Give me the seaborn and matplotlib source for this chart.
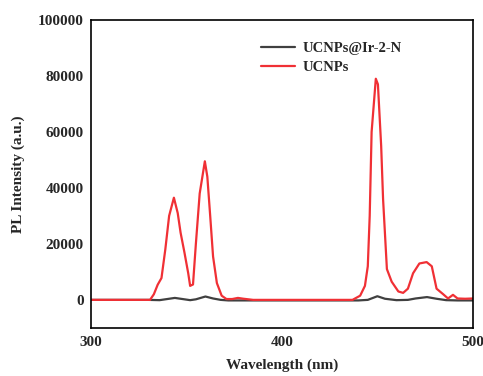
"""PL spectra of UCNPs and UCNPs@Ir-2-N."""
import matplotlib
matplotlib.use('Agg')
import matplotlib.pyplot as plt
import seaborn as sns

# red curve: bare UCNPs (wavelength in nm, intensity in a.u.)
ucnp_wl = [300, 320, 331, 333, 335, 337, 339, 341, 343.5, 345.5, 347, 349, 351, 352,
           353.5, 355, 357, 359.7, 361, 362.5, 364, 366, 368.5, 371, 374, 377, 380,
           385, 400, 420, 437, 441, 443.5, 445, 446, 447, 449.2, 450.3, 452, 453,
           455, 457.5, 461, 463.5, 466, 468.7, 472, 475.8, 478.5, 481, 484.5, 487,
           489.6, 492, 496, 500]
ucnp_int = [0, 0, 0, 2000, 5400, 7800, 18000, 30000, 36500, 31000, 24000, 17000, 9500,
            5000, 5500, 20000, 38000, 49500, 44000, 30000, 15500, 6000, 1500, 300, 300,
            700, 400, 0, 0, 0, 0, 1500, 5000, 12000, 30000, 60000, 79000, 77000, 55000,
            36000, 11000, 6500, 3000, 2500, 4000, 9500, 13000, 13500, 12000, 4000, 2000,
            500, 1800, 500, 400, 500]

# dark curve: UCNPs@Ir-2-N
coated_wl = [300, 330, 336, 340, 344, 348, 352, 355, 360, 364, 368, 372, 380, 400,
             420, 440, 445, 450, 454, 460, 466, 470, 476, 481, 486, 492, 500]
coated_int = [0, 0, -100, 300, 700, 300, -100, 200, 1200, 500, 0, -200, -200, -200,
              -200, -200, 0, 1300, 400, -100, 0, 500, 1000, 400, -100, -200, -200]

sns.set_style('white')
plt.rcParams['font.family'] = ['Liberation Serif', 'DejaVu Serif']
plt.rcParams['font.weight'] = 'bold'

fig = plt.figure(figsize=(4.83, 3.76), dpi=100)
ax = fig.add_axes([0.188, 0.128, 0.791, 0.819])

sns.lineplot(x=coated_wl, y=coated_int, ax=ax, color='#404040', linewidth=1.6,
             label='UCNPs@Ir-2-N')
sns.lineplot(x=ucnp_wl, y=ucnp_int, ax=ax, color='#f03035', linewidth=1.6,
             label='UCNPs')

ax.set_xlim(300, 500)
ax.set_ylim(-10000, 100000)
ax.set_xticks([300, 400, 500])
ax.set_yticks(range(0, 100001, 20000))
ax.tick_params(axis='x', direction='in', length=4, width=1.5, labelsize=11, pad=6)
ax.tick_params(axis='y', length=0, labelsize=11, pad=5)
for lbl in ax.get_xticklabels() + ax.get_yticklabels():
    lbl.set_fontweight('bold')

for spine in ax.spines.values():
    spine.set_color('black')
    spine.set_linewidth(1.2)

ax.set_xlabel('Wavelength (nm)', fontsize=11, fontweight='bold', labelpad=7)
ax.set_ylabel('PL Intensity (a.u.)', fontsize=11, fontweight='bold', labelpad=9)

leg = ax.legend(loc='upper left', bbox_to_anchor=(0.412, 0.97), frameon=False,
                fontsize=10.5, handlelength=2.3, handletextpad=0.5, labelspacing=0.35)
for t in leg.get_texts():
    t.set_fontweight('bold')

fig.savefig('out.png', dpi=100)
